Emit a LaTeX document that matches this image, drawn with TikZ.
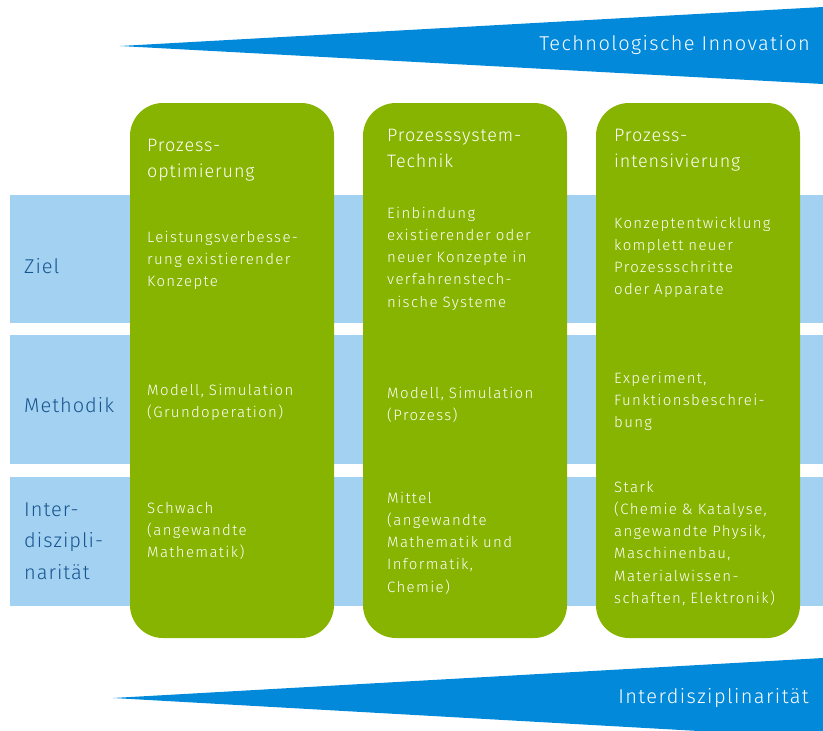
\documentclass[tikz,border=0pt]{standalone}
\usepackage{fontspec}
\setmainfont{Fira Sans}[UprightFont=* Light, LetterSpace=5]
\newfontfamily\bodyfont{Fira Sans}[UprightFont=* Light, LetterSpace=9]
\newfontfamily\wedgefont{Fira Sans}[UprightFont=* Light, LetterSpace=7]
\definecolor{grn}{HTML}{87B400}
\definecolor{lblue}{HTML}{A3D1F1}
\definecolor{wblue}{HTML}{0289DA}
\definecolor{dblue}{HTML}{17558F}
\tikzset{
  bandbox/.style={fill=lblue, draw=none, anchor=north west, minimum width=813pt, minimum height=128pt, inner sep=0},
  colbox/.style={fill=grn, draw=none, rounded corners=33pt, minimum width=204pt, minimum height=535pt, inner sep=0},
  wedgetext/.style={text=white, font=\wedgefont\fontsize{20}{22}\selectfont, anchor=east, inner sep=0},
  rowlabel/.style={text=dblue, font=\fontsize{20}{31.5}\selectfont, anchor=west, align=left, inner sep=0},
  coltitle/.style={text=white, font=\fontsize{18}{26}\selectfont, anchor=base west, text width=190pt, align=left, inner sep=0},
  colbody/.style={text=white, font=\bodyfont\fontsize{15}{22.3}\selectfont, anchor=base west, text width=200pt, align=left, inner sep=0}
}
\begin{document}
\begin{tikzpicture}[x=1pt,y=-1pt]
\useasboundingbox (0,0) rectangle (823,731);
% bands
\node[bandbox] (b1) at (10,195) {};
\node[bandbox, minimum height=129pt] (b2) at (10,335) {};
\node[bandbox, minimum height=129pt] (b3) at (10,477) {};
% columns
\node[colbox] (c1) at (232,370.5) {};
\node[colbox] (c2) at (465,370.5) {};
\node[colbox] (c3) at (698,370.5) {};
% wedges
\coordinate (w1tip) at (120,46);
\coordinate (w1a) at (823,7);
\coordinate (w1b) at (823,84);
\fill[wblue] (w1tip) -- (w1a) -- (w1b) -- cycle;
\node[wedgetext] (t1) at (810,45) {Technologische Innovation};
\coordinate (w2tip) at (113,698);
\coordinate (w2a) at (823,658);
\coordinate (w2b) at (823,738);
\fill[wblue] (w2tip) -- (w2a) -- (w2b) -- cycle;
\node[wedgetext] (t2) at (809,698) {Interdisziplinarität};
% row labels
\node[rowlabel] (l1) at (24,266) {Ziel};
\node[rowlabel] (l2) at (24,405) {Methodik};
\node[rowlabel] (l3) at (24,541) {Inter-\\diszipli-\\narität};
% column 1
\node[coltitle] (h1) at (147,151) {Prozess-\\optimierung};
\node[colbody] (z1) at (147,242) {Leistungsverbesse-\\rung existierender\\Konzepte};
\node[colbody] (m1) at (147,395) {Modell, Simulation\\(Grundoperation)};
\node[colbody] (i1) at (147,513) {Schwach\\(angewandte\\Mathematik)};
% column 2
\node[coltitle] (h2) at (387,141) {Prozesssystem-\\Technik};
\node[colbody] (z2) at (387,218) {Einbindung\\existierender oder\\neuer Konzepte in\\verfahrenstech-\\nische Systeme};
\node[colbody] (m2) at (387,398) {Modell, Simulation\\(Prozess)};
\node[colbody] (i2) at (387,503) {Mittel\\(angewandte\\Mathematik und\\Informatik,\\Chemie)};
% column 3
\node[coltitle] (h3) at (614,141) {Prozess-\\intensivierung};
\node[colbody] (z3) at (614,228) {Konzeptentwicklung\\komplett neuer\\Prozessschritte\\oder Apparate};
\node[colbody] (m3) at (614,383) {Experiment,\\Funktionsbeschrei-\\bung};
\node[colbody] (i3) at (614,492) {Stark\\(Chemie \& Katalyse,\\angewandte Physik,\\Maschinenbau,\\Materialwissen-\\schaften, Elektronik)};
\end{tikzpicture}
\end{document}
